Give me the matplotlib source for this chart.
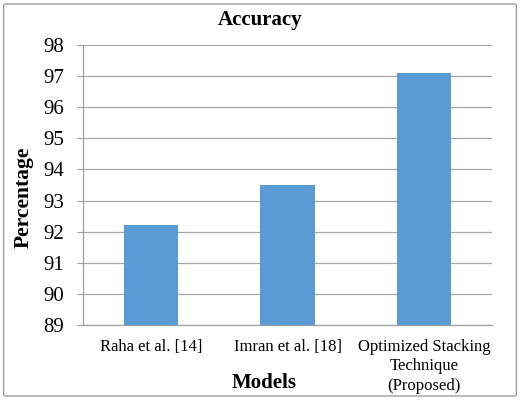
import matplotlib.pyplot as plt
from matplotlib.patches import FancyBboxPatch

# Accuracy data
models = ["Raha et al. [14]", "Imran et al. [18]", "Optimized Stacking\nTechnique\n(Proposed)"]
accuracy = [92.2, 93.5, 97.1]
y_ticks = [89, 90, 91, 92, 93, 94, 95, 96, 97, 98]

plt.rcParams['font.family'] = ['Liberation Serif', 'DejaVu Serif']

fig = plt.figure(figsize=(5.2, 4), dpi=100)
ax = fig.add_axes([0.1596, 0.1875, 0.7866, 0.70])

x = range(len(models))
ax.bar(x, accuracy, width=0.4, color='#5B9BD5', zorder=3)

ax.set_xlim(-0.5, 2.5)
ax.set_ylim(89, 98)
ax.set_yticks(y_ticks)
ax.set_xticks(list(x))
ax.set_xticklabels(models, fontsize=12, va='top', linespacing=1.3)
ax.tick_params(axis='y', labelsize=15, length=4.5, color='#a0a0a0', pad=9)
ax.tick_params(axis='x', length=0, pad=10)

ax.grid(axis='y', color='#a6a6a6', linewidth=0.9, zorder=0)
for side in ['top', 'right']:
    ax.spines[side].set_visible(False)
for side in ['left', 'bottom']:
    ax.spines[side].set_color('#a0a0a0')
    ax.spines[side].set_linewidth(0.9)

fig.text(0.5, 0.949, 'Accuracy', ha='center', va='center', fontsize=15, fontweight='bold')
fig.text(0.046, 0.5075, 'Percentage', ha='center', va='center', rotation=90,
         fontsize=15.5, fontweight='bold')
fig.text(0.508, 0.043, 'Models', ha='center', va='center', fontsize=15, fontweight='bold')

# Outer frame around the chart
border = FancyBboxPatch((0.007, 0.01), 0.986, 0.98, boxstyle='round,pad=0,rounding_size=0.005',
                        transform=fig.transFigure, fill=False, edgecolor='#a0a0a0', linewidth=1.0)
fig.patches.append(border)

fig.savefig('out.png', dpi=100)
